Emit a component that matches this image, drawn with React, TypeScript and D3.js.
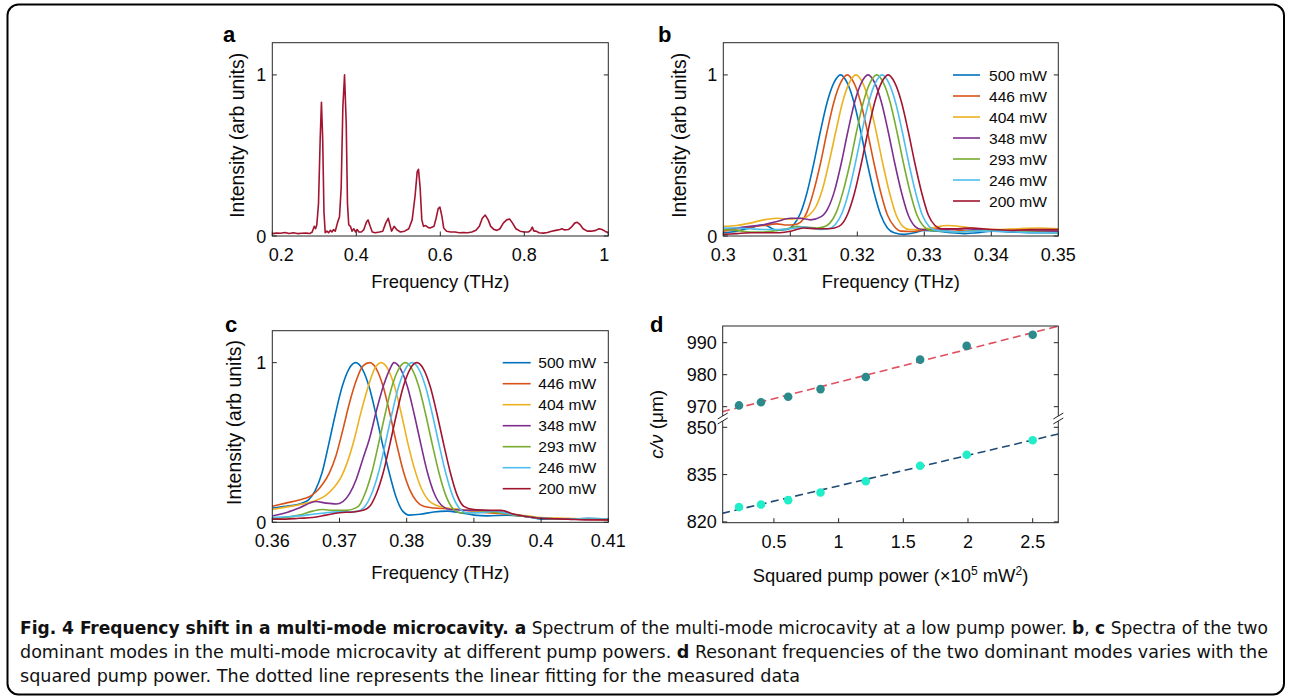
import React from "react";
import * as d3 from "d3";

type P = [number, number];
type Box = { l: number; r: number; t: number; b: number };

const FONT = "'Liberation Sans', Arial, Helvetica, sans-serif";
const CAPTION_FONT = "'Liberation Sans Narrow', 'DejaVu Sans Condensed', 'Arial Narrow', sans-serif";
const AXIS = "#262626";
const TEXT = "#0a0a0a";

// ---------------- Panel a: spectrum at low pump power ----------------
const spectrumA: P[] = [
  [0.2, 0.015], [0.21, 0.018], [0.22, 0.017], [0.23, 0.022], [0.24, 0.016], [0.25, 0.02],
  [0.26, 0.015], [0.27, 0.017], [0.28, 0.018], [0.29, 0.016], [0.295, 0.025], [0.3, 0.06],
  [0.303, 0.045], [0.306, 0.07], [0.31, 0.2], [0.314, 0.6], [0.317, 0.83], [0.32, 0.6],
  [0.323, 0.15], [0.326, 0.02], [0.33, 0.03], [0.334, 0.02], [0.338, 0.035], [0.342, 0.025],
  [0.346, 0.04], [0.35, 0.03], [0.355, 0.08], [0.36, 0.12], [0.364, 0.3], [0.368, 0.8],
  [0.372, 1.0], [0.376, 0.7], [0.379, 0.2], [0.382, 0.07], [0.386, 0.06], [0.39, 0.03],
  [0.394, 0.045], [0.398, 0.025], [0.402, 0.04], [0.406, 0.025], [0.412, 0.025], [0.418, 0.04],
  [0.424, 0.085], [0.428, 0.1], [0.433, 0.06], [0.438, 0.025], [0.445, 0.02], [0.455, 0.025],
  [0.463, 0.03], [0.47, 0.08], [0.476, 0.11], [0.481, 0.06], [0.484, 0.03], [0.49, 0.06],
  [0.496, 0.04], [0.505, 0.025], [0.515, 0.03], [0.525, 0.045], [0.533, 0.1], [0.54, 0.25],
  [0.545, 0.4], [0.548, 0.414], [0.552, 0.3], [0.556, 0.1], [0.56, 0.06], [0.565, 0.065],
  [0.57, 0.055], [0.575, 0.05], [0.58, 0.055], [0.585, 0.06], [0.59, 0.11], [0.595, 0.17],
  [0.599, 0.18], [0.604, 0.12], [0.608, 0.05], [0.615, 0.03], [0.625, 0.025], [0.635, 0.025],
  [0.645, 0.02], [0.655, 0.022], [0.665, 0.02], [0.675, 0.025], [0.685, 0.035], [0.693, 0.06],
  [0.7, 0.11], [0.707, 0.13], [0.714, 0.1], [0.72, 0.06], [0.728, 0.04], [0.735, 0.035],
  [0.742, 0.045], [0.75, 0.08], [0.758, 0.1], [0.765, 0.105], [0.772, 0.08], [0.78, 0.045],
  [0.79, 0.03], [0.8, 0.025], [0.81, 0.025], [0.815, 0.035], [0.819, 0.055], [0.823, 0.03],
  [0.828, 0.03], [0.835, 0.02], [0.845, 0.018], [0.855, 0.022], [0.865, 0.03], [0.875, 0.035],
  [0.885, 0.04], [0.89, 0.045], [0.895, 0.038], [0.905, 0.04], [0.912, 0.055], [0.92, 0.08],
  [0.926, 0.085], [0.933, 0.07], [0.94, 0.045], [0.95, 0.03], [0.96, 0.03], [0.97, 0.035],
  [0.978, 0.045], [0.985, 0.04], [0.992, 0.03], [1.0, 0.02],
];
const aXTicks = [0.2, 0.4, 0.6, 0.8, 1];

// ---------------- Panels b, c: two dominant modes ----------------
const powerLabels = ["500 mW", "446 mW", "404 mW", "348 mW", "293 mW", "246 mW", "200 mW"];
const seriesColors = ["#0072BD", "#D95319", "#EDB120", "#7E2F8E", "#77AC30", "#4DBEEE", "#A2142F"];
const specYTicks = [0, 1];

const bXTicks = [0.3, 0.31, 0.32, 0.33, 0.34, 0.35];
const b500: P[] = [
  [0.3, 0.02], [0.302, 0.03], [0.304, 0.05], [0.306, 0.07], [0.308, 0.035], [0.3095, 0.04],
  [0.3105, 0.07], [0.3115, 0.14], [0.3125, 0.27], [0.3135, 0.45], [0.3145, 0.65], [0.3155, 0.83],
  [0.3165, 0.95], [0.3175, 1.0], [0.3185, 0.95], [0.3195, 0.83], [0.3205, 0.65], [0.3215, 0.45],
  [0.3225, 0.27], [0.3235, 0.13], [0.3245, 0.05], [0.3255, 0.02], [0.327, 0.01], [0.3285, 0.02],
  [0.33, 0.035], [0.332, 0.03], [0.334, 0.02], [0.336, 0.015], [0.338, 0.02], [0.34, 0.03],
  [0.343, 0.025], [0.346, 0.02], [0.35, 0.02],
];
const b446: P[] = [
  [0.3, 0.03], [0.303, 0.05], [0.306, 0.065], [0.308, 0.075], [0.3095, 0.068], [0.3105, 0.07],
  [0.3115, 0.085], [0.3125, 0.15], [0.3135, 0.28], [0.3145, 0.45], [0.3155, 0.65], [0.3165, 0.83],
  [0.3175, 0.95], [0.3185, 1.0], [0.3195, 0.95], [0.3205, 0.83], [0.3215, 0.65], [0.3225, 0.45],
  [0.3235, 0.27], [0.3245, 0.13], [0.3255, 0.06], [0.3265, 0.03], [0.328, 0.028], [0.33, 0.038],
  [0.332, 0.045], [0.334, 0.04], [0.337, 0.03], [0.34, 0.035], [0.343, 0.04], [0.346, 0.035],
  [0.35, 0.03],
];
const b404: P[] = [
  [0.3, 0.06], [0.302, 0.065], [0.304, 0.08], [0.306, 0.1], [0.308, 0.11], [0.31, 0.105],
  [0.3118, 0.11], [0.3128, 0.13], [0.3138, 0.18], [0.3148, 0.29], [0.3158, 0.46], [0.3168, 0.65],
  [0.3178, 0.83], [0.3188, 0.95], [0.3198, 1.0], [0.3208, 0.95], [0.3218, 0.83], [0.3228, 0.65],
  [0.3238, 0.45], [0.3248, 0.27], [0.3258, 0.13], [0.3268, 0.06], [0.3278, 0.04], [0.329, 0.04],
  [0.331, 0.05], [0.3335, 0.065], [0.336, 0.055], [0.338, 0.045], [0.341, 0.04], [0.344, 0.045],
  [0.347, 0.05], [0.35, 0.045],
];
const b348: P[] = [
  [0.3, 0.04], [0.302, 0.05], [0.304, 0.06], [0.306, 0.07], [0.308, 0.09], [0.31, 0.11],
  [0.3115, 0.11], [0.313, 0.1], [0.3146, 0.12], [0.3156, 0.17], [0.3166, 0.28], [0.3176, 0.45],
  [0.3186, 0.65], [0.3196, 0.83], [0.3206, 0.95], [0.3216, 1.0], [0.3226, 0.95], [0.3236, 0.83],
  [0.3246, 0.65], [0.3256, 0.45], [0.3266, 0.27], [0.3276, 0.13], [0.3286, 0.06], [0.3296, 0.04],
  [0.332, 0.035], [0.334, 0.04], [0.336, 0.045], [0.338, 0.04], [0.341, 0.03], [0.345, 0.03],
  [0.35, 0.03],
];
const b293: P[] = [
  [0.3, 0.04], [0.302, 0.035], [0.304, 0.025], [0.306, 0.025], [0.308, 0.035], [0.31, 0.05],
  [0.311, 0.06], [0.312, 0.055], [0.314, 0.05], [0.3149, 0.055], [0.3159, 0.08], [0.3169, 0.15],
  [0.3179, 0.28], [0.3189, 0.45], [0.3199, 0.65], [0.3209, 0.83], [0.3219, 0.95], [0.3229, 1.0],
  [0.3239, 0.95], [0.3249, 0.83], [0.3259, 0.65], [0.3269, 0.45], [0.3279, 0.27], [0.3289, 0.13],
  [0.3299, 0.06], [0.3309, 0.035], [0.333, 0.03], [0.335, 0.025], [0.337, 0.03], [0.34, 0.035],
  [0.343, 0.03], [0.346, 0.025], [0.35, 0.02],
];
const b246: P[] = [
  [0.3, 0.05], [0.302, 0.05], [0.304, 0.045], [0.306, 0.04], [0.308, 0.04], [0.31, 0.045],
  [0.312, 0.055], [0.3137, 0.045], [0.3147, 0.04], [0.3157, 0.045], [0.3167, 0.07], [0.3177, 0.14],
  [0.3187, 0.27], [0.3197, 0.45], [0.3207, 0.65], [0.3217, 0.83], [0.3227, 0.95], [0.3237, 1.0],
  [0.3247, 0.95], [0.3257, 0.83], [0.3267, 0.65], [0.3277, 0.45], [0.3287, 0.27], [0.3297, 0.13],
  [0.3307, 0.06], [0.3317, 0.035], [0.333, 0.03], [0.335, 0.025], [0.338, 0.03], [0.341, 0.03],
  [0.344, 0.025], [0.347, 0.02], [0.35, 0.02],
];
const b200: P[] = [
  [0.3, 0.01], [0.302, 0.015], [0.304, 0.02], [0.306, 0.02], [0.308, 0.02], [0.31, 0.03],
  [0.312, 0.05], [0.314, 0.045], [0.3156, 0.045], [0.3166, 0.05], [0.3176, 0.07], [0.3186, 0.14],
  [0.3196, 0.27], [0.3206, 0.45], [0.3216, 0.65], [0.3226, 0.83], [0.3236, 0.95], [0.3246, 1.0],
  [0.3256, 0.95], [0.3266, 0.83], [0.3276, 0.65], [0.3286, 0.45], [0.3296, 0.27], [0.3306, 0.13],
  [0.3316, 0.065], [0.3326, 0.045], [0.335, 0.045], [0.337, 0.05], [0.34, 0.04], [0.343, 0.035],
  [0.346, 0.04], [0.35, 0.04],
];

const cXTicks = [0.36, 0.37, 0.38, 0.39, 0.4, 0.41];
const c500: P[] = [
  [0.36, 0.09], [0.362, 0.1], [0.3644, 0.12], [0.3654, 0.14], [0.3664, 0.2], [0.3674, 0.31],
  [0.3684, 0.49], [0.3694, 0.68], [0.3704, 0.85], [0.3714, 0.96], [0.3724, 1.0], [0.3734, 0.96],
  [0.3744, 0.85], [0.3754, 0.68], [0.3764, 0.49], [0.3774, 0.31], [0.3784, 0.16], [0.3794, 0.07],
  [0.3804, 0.045], [0.382, 0.05], [0.384, 0.065], [0.386, 0.07], [0.388, 0.06], [0.39, 0.045],
  [0.392, 0.04], [0.395, 0.045], [0.398, 0.035], [0.4, 0.02], [0.404, 0.02], [0.407, 0.025],
  [0.41, 0.02],
];
const c446: P[] = [
  [0.36, 0.1], [0.362, 0.12], [0.364, 0.14], [0.3655, 0.16], [0.3665, 0.19], [0.3675, 0.24],
  [0.3685, 0.31], [0.3695, 0.42], [0.3705, 0.58], [0.3715, 0.75], [0.3725, 0.89], [0.3735, 0.98],
  [0.3745, 1.0], [0.3755, 0.96], [0.3765, 0.85], [0.3775, 0.68], [0.3785, 0.49], [0.3795, 0.32],
  [0.3805, 0.2], [0.3815, 0.13], [0.3825, 0.1], [0.384, 0.09], [0.386, 0.085], [0.388, 0.08],
  [0.39, 0.07], [0.392, 0.06], [0.394, 0.055], [0.396, 0.045], [0.398, 0.035], [0.4, 0.025],
  [0.404, 0.02], [0.407, 0.02], [0.41, 0.015],
];
const c404: P[] = [
  [0.36, 0.08], [0.362, 0.095], [0.364, 0.11], [0.366, 0.13], [0.368, 0.17], [0.3692, 0.22],
  [0.3702, 0.28], [0.3712, 0.38], [0.3722, 0.52], [0.3732, 0.69], [0.3742, 0.84], [0.3752, 0.96],
  [0.3762, 1.0], [0.3772, 0.96], [0.3782, 0.85], [0.3792, 0.68], [0.3802, 0.49], [0.3812, 0.33],
  [0.3822, 0.21], [0.3832, 0.14], [0.3842, 0.11], [0.386, 0.09], [0.388, 0.08], [0.39, 0.07],
  [0.392, 0.065], [0.394, 0.06], [0.396, 0.05], [0.398, 0.04], [0.4, 0.03], [0.404, 0.025],
  [0.407, 0.02], [0.41, 0.02],
];
const c348: P[] = [
  [0.36, 0.04], [0.362, 0.06], [0.364, 0.09], [0.3665, 0.13], [0.368, 0.12], [0.3695, 0.115],
  [0.3705, 0.13], [0.3715, 0.18], [0.3725, 0.27], [0.3735, 0.4], [0.3745, 0.53], [0.3755, 0.7],
  [0.3765, 0.85], [0.3775, 0.96], [0.3781, 1.0], [0.3791, 0.96], [0.3801, 0.85], [0.3811, 0.68],
  [0.3821, 0.49], [0.3831, 0.31], [0.3841, 0.18], [0.3851, 0.11], [0.3865, 0.08], [0.389, 0.075],
  [0.391, 0.075], [0.393, 0.07], [0.395, 0.055], [0.398, 0.035], [0.4, 0.025], [0.404, 0.02],
  [0.407, 0.02], [0.41, 0.02],
];
const c293: P[] = [
  [0.36, 0.02], [0.362, 0.03], [0.364, 0.045], [0.366, 0.07], [0.3675, 0.08], [0.369, 0.075],
  [0.371, 0.075], [0.3728, 0.1], [0.3738, 0.18], [0.3748, 0.31], [0.3758, 0.49], [0.3768, 0.68],
  [0.3778, 0.85], [0.3788, 0.96], [0.3798, 1.0], [0.3808, 0.96], [0.3818, 0.85], [0.3828, 0.68],
  [0.3838, 0.49], [0.3848, 0.31], [0.3858, 0.17], [0.3868, 0.09], [0.388, 0.06], [0.39, 0.06],
  [0.392, 0.065], [0.394, 0.06], [0.396, 0.045], [0.398, 0.035], [0.4, 0.025], [0.404, 0.02],
  [0.407, 0.02], [0.41, 0.02],
];
const c246: P[] = [
  [0.36, 0.03], [0.362, 0.035], [0.364, 0.04], [0.366, 0.05], [0.368, 0.06], [0.37, 0.065],
  [0.3718, 0.065], [0.3728, 0.07], [0.3738, 0.1], [0.3748, 0.18], [0.3758, 0.31], [0.3768, 0.49],
  [0.3778, 0.68], [0.3788, 0.85], [0.3798, 0.96], [0.3808, 1.0], [0.3818, 0.96], [0.3828, 0.85],
  [0.3838, 0.68], [0.3848, 0.49], [0.3858, 0.31], [0.3868, 0.17], [0.3878, 0.09], [0.389, 0.06],
  [0.391, 0.06], [0.393, 0.07], [0.395, 0.055], [0.398, 0.035], [0.4, 0.025], [0.404, 0.02],
  [0.407, 0.02], [0.41, 0.02],
];
const c200: P[] = [
  [0.36, 0.02], [0.362, 0.02], [0.364, 0.025], [0.366, 0.03], [0.368, 0.045], [0.37, 0.06],
  [0.372, 0.065], [0.3735, 0.075], [0.3745, 0.1], [0.3755, 0.18], [0.3765, 0.31], [0.3775, 0.49],
  [0.3785, 0.68], [0.3795, 0.85], [0.3805, 0.96], [0.3815, 1.0], [0.3825, 0.96], [0.3835, 0.85],
  [0.3845, 0.68], [0.3855, 0.49], [0.3865, 0.31], [0.3875, 0.17], [0.3885, 0.1], [0.39, 0.08],
  [0.392, 0.075], [0.394, 0.075], [0.396, 0.05], [0.398, 0.035], [0.4, 0.025], [0.404, 0.02],
  [0.407, 0.015], [0.41, 0.015],
];

// ---------------- Panel d: c/nu versus squared pump power ----------------
const squaredPower = [0.23, 0.4, 0.61, 0.86, 1.21, 1.63, 1.99, 2.5];
const modeHigh = [970.4, 971.4, 973.1, 975.5, 979.3, 984.7, 989.0, 992.5];
const modeLow = [824.7, 825.5, 826.9, 829.3, 832.9, 837.8, 841.3, 845.9];
const fitX = [0.1, 2.7];
const fitHigh = [968.4, 995.2];
const fitLow = [822.7, 847.9];
const dXTicks = [0.5, 1, 1.5, 2, 2.5];
const dYTicksHigh = [970, 980, 990];
const dYTicksLow = [820, 835, 850];

// ---------------- helpers ----------------
type Tick = { label: string; pos: number; shift?: number };

function AxesFrame({ box, xTicks, yTicks }: { box: Box; xTicks: Tick[]; yTicks: Tick[] }) {
  return (
    <g fontFamily={FONT} fill={TEXT}>
      <rect x={box.l} y={box.t} width={box.r - box.l} height={box.b - box.t} fill="none" stroke={AXIS} strokeWidth={1} />
      {xTicks.map((t) => (
        <g key={"x" + t.label}>
          <line x1={t.pos} x2={t.pos} y1={box.b} y2={box.b - 4.5} stroke={AXIS} strokeWidth={1} />
          <text x={t.pos + (t.shift || 0)} y={box.b + 25} textAnchor="middle" fontSize={18}>{t.label}</text>
        </g>
      ))}
      {yTicks.map((t) => (
        <g key={"y" + t.label}>
          <line x1={box.l} x2={box.l + 4.5} y1={t.pos} y2={t.pos} stroke={AXIS} strokeWidth={1} />
          <line x1={box.r} x2={box.r - 4.5} y1={t.pos} y2={t.pos} stroke={AXIS} strokeWidth={1} />
          <text x={box.l - 6} y={t.pos + 6.5} textAnchor="end" fontSize={18}>{t.label}</text>
        </g>
      ))}
    </g>
  );
}

function SpectrumPanel(props: {
  id: string;
  box: Box;
  xDomain: [number, number];
  xTicks: number[];
  xTickShift?: number[];
  curves: P[][];
  colors: string[];
  curveType: "linear" | "smooth";
  legend?: { x1: number; x2: number; tx: number; y0: number; dy: number };
  letter: { text: string; x: number; y: number };
  yLabelX: number;
  xLabelY: number;
}) {
  const { id, box, xDomain, xTicks, curves, colors, legend, letter, yLabelX, xLabelY } = props;
  const x = d3.scaleLinear().domain(xDomain).range([box.l, box.r]);
  const y = d3.scaleLinear().domain([0, 1.2]).range([box.b, box.t]);
  const line = d3
    .line<P>()
    .x((d) => x(d[0]))
    .y((d) => y(d[1]))
    .curve(props.curveType === "smooth" ? d3.curveMonotoneX : d3.curveLinear);
  return (
    <g>
      <clipPath id={id}>
        <rect x={box.l} y={box.t} width={box.r - box.l} height={box.b - box.t} />
      </clipPath>
      <g clipPath={`url(#${id})`}>
        {curves.map((c, i) => (
          <path key={i} d={line(c) || ""} fill="none" stroke={colors[i]} strokeWidth={1.6} strokeLinejoin="round" />
        ))}
      </g>
      <AxesFrame
        box={box}
        xTicks={xTicks.map((v, i) => ({ label: String(v), pos: x(v), shift: props.xTickShift ? props.xTickShift[i] : 0 }))}
        yTicks={specYTicks.map((v) => ({ label: String(v), pos: y(v) }))}
      />
      {legend &&
        powerLabels.map((lab, i) => {
          const cy = legend.y0 + i * legend.dy;
          return (
            <g key={lab}>
              <line x1={legend.x1} x2={legend.x2} y1={cy} y2={cy} stroke={seriesColors[i]} strokeWidth={1.6} />
              <text
                x={legend.tx}
                y={cy + 5.5}
                fontSize={15.5}
                fontFamily={FONT}
                fill={TEXT}
                textLength={58}
                lengthAdjust="spacingAndGlyphs"
              >
                {lab}
              </text>
            </g>
          );
        })}
      <text x={letter.x} y={letter.y} fontSize={22} fontWeight="bold" fontFamily={FONT} fill="#000">{letter.text}</text>
      <text
        transform={`translate(${yLabelX},${(box.t + box.b) / 2 - 4}) rotate(-90)`}
        textAnchor="middle"
        fontSize={19.4}
        fontFamily={FONT}
        fill={TEXT}
      >
        Intensity (arb units)
      </text>
      <text x={(box.l + box.r) / 2} y={xLabelY} textAnchor="middle" fontSize={18.4} fontFamily={FONT} fill={TEXT}>
        Frequency (THz)
      </text>
    </g>
  );
}

function PanelD() {
  const box: Box = { l: 722.7, r: 1058.3, t: 326, b: 522.7 };
  const breakY = 418;
  const x = d3.scaleLinear().domain([0.104, 2.698]).range([box.l, box.r]);
  const yHigh = d3.scaleLinear().domain([970, 990]).range([406.7, 342.7]);
  const yLow = d3.scaleLinear().domain([820, 850]).range([521.9, 427.3]);
  const fitHighLine = d3.line<number>().x((_, i) => x(fitX[i])).y((v) => yHigh(v));
  const fitLowLine = d3.line<number>().x((_, i) => x(fitX[i])).y((v) => yLow(v));
  const yTicks: Tick[] = [
    ...dYTicksHigh.map((v) => ({ label: String(v), pos: yHigh(v) })),
    ...dYTicksLow.map((v) => ({ label: String(v), pos: yLow(v) })),
  ];
  const breakMark = (bx: number) => (
    <g>
      <polygon
        points={`${bx - 5},${breakY + 1} ${bx + 5},${breakY - 5} ${bx + 5},${breakY} ${bx - 5},${breakY + 6}`}
        fill="#fff"
      />
      <line x1={bx - 5} y1={breakY + 1} x2={bx + 5} y2={breakY - 5} stroke={AXIS} strokeWidth={1} />
      <line x1={bx - 5} y1={breakY + 6} x2={bx + 5} y2={breakY} stroke={AXIS} strokeWidth={1} />
    </g>
  );
  return (
    <g>
      <clipPath id="clipD">
        <rect x={box.l} y={box.t} width={box.r - box.l} height={box.b - box.t} />
      </clipPath>
      <g clipPath="url(#clipD)">
        <path d={fitHighLine(fitHigh) || ""} fill="none" stroke="#E0505F" strokeWidth={1.6} strokeDasharray="8 4.5" />
        <path d={fitLowLine(fitLow) || ""} fill="none" stroke="#1F4A73" strokeWidth={1.6} strokeDasharray="8 4.5" />
        {squaredPower.map((p, i) => (
          <circle key={"h" + i} cx={x(p)} cy={yHigh(modeHigh[i])} r={4.3} fill="#2B8A8C" />
        ))}
        {squaredPower.map((p, i) => (
          <circle key={"l" + i} cx={x(p)} cy={yLow(modeLow[i])} r={4.3} fill="#22EDC9" />
        ))}
      </g>
      <AxesFrame box={box} xTicks={dXTicks.map((v) => ({ label: String(v), pos: x(v) }))} yTicks={yTicks} />
      {breakMark(box.l)}
      {breakMark(box.r)}
      <text x={650} y={332} fontSize={22} fontWeight="bold" fontFamily={FONT} fill="#000">d</text>
      <text
        transform={`translate(663,${(box.t + box.b) / 2}) rotate(-90)`}
        textAnchor="middle"
        fontSize={19}
        fontFamily={FONT}
        fill={TEXT}
      >
        <tspan fontStyle="italic">c/ν</tspan>
        <tspan> (μm)</tspan>
      </text>
      <text x={(box.l + box.r) / 2} y={582} textAnchor="middle" fontSize={18.4} fontFamily={FONT} fill={TEXT}>
        <tspan>Squared pump power (×10</tspan>
        <tspan fontSize={12} dy={-7}>5</tspan>
        <tspan dy={7}> mW</tspan>
        <tspan fontSize={12} dy={-7}>2</tspan>
        <tspan dy={7}>)</tspan>
      </text>
    </g>
  );
}

function Caption() {
  return (
    <g fontFamily={CAPTION_FONT} fontSize={18} fill="#111">
      <text x={20} y={634} textLength={1248} lengthAdjust="spacingAndGlyphs">
        <tspan fontWeight="bold">Fig. 4 Frequency shift in a multi-mode microcavity. a</tspan>
        <tspan>{" Spectrum of the multi-mode microcavity at a low pump power. "}</tspan>
        <tspan fontWeight="bold">b</tspan>
        <tspan>{", "}</tspan>
        <tspan fontWeight="bold">c</tspan>
        <tspan>{" Spectra of the two"}</tspan>
      </text>
      <text x={20} y={658} textLength={1248} lengthAdjust="spacingAndGlyphs">
        <tspan>{"dominant modes in the multi-mode microcavity at different pump powers. "}</tspan>
        <tspan fontWeight="bold">d</tspan>
        <tspan>{" Resonant frequencies of the two dominant modes varies with the"}</tspan>
      </text>
      <text x={20} y={682} textLength={780} lengthAdjust="spacingAndGlyphs">
        squared pump power. The dotted line represents the linear fitting for the measured data
      </text>
    </g>
  );
}

export default function App() {
  return (
    <svg
      width={1291}
      height={699}
      viewBox="0 0 1291 699"
      style={{ position: "absolute", left: 0, top: 0, background: "#fff" }}
    >
      <rect x={0} y={0} width={1291} height={699} fill="#fff" />
      <rect x={7.5} y={4.5} width={1276.5} height={690} rx={11} ry={11} fill="none" stroke="#000" strokeWidth={2} />
      <SpectrumPanel
        id="clipA"
        box={{ l: 272.3, r: 608.3, t: 42.7, b: 236 }}
        xDomain={[0.2, 1]}
        xTicks={aXTicks}
        xTickShift={[9, 0, 0, 0, -4]}
        curves={[spectrumA]}
        colors={["#A2142F"]}
        curveType="linear"
        letter={{ text: "a", x: 223, y: 41.7 }}
        yLabelX={244}
        xLabelY={288}
      />
      <SpectrumPanel
        id="clipB"
        box={{ l: 723.3, r: 1058.3, t: 42.7, b: 236 }}
        xDomain={[0.3, 0.35]}
        xTicks={bXTicks}
        curves={[b500, b446, b404, b348, b293, b246, b200]}
        colors={seriesColors}
        curveType="smooth"
        legend={{ x1: 953, x2: 980, tx: 989, y0: 75, dy: 21 }}
        letter={{ text: "b", x: 658, y: 41.7 }}
        yLabelX={686}
        xLabelY={288}
      />
      <SpectrumPanel
        id="clipC"
        box={{ l: 272.3, r: 608.3, t: 330.7, b: 522.3 }}
        xDomain={[0.36, 0.41]}
        xTicks={cXTicks}
        curves={[c500, c446, c404, c348, c293, c246, c200]}
        colors={seriesColors}
        curveType="smooth"
        legend={{ x1: 502.7, x2: 530.7, tx: 538.3, y0: 362.7, dy: 21 }}
        letter={{ text: "c", x: 225, y: 332.3 }}
        yLabelX={241}
        xLabelY={579}
      />
      <PanelD />
      <Caption />
    </svg>
  );
}
